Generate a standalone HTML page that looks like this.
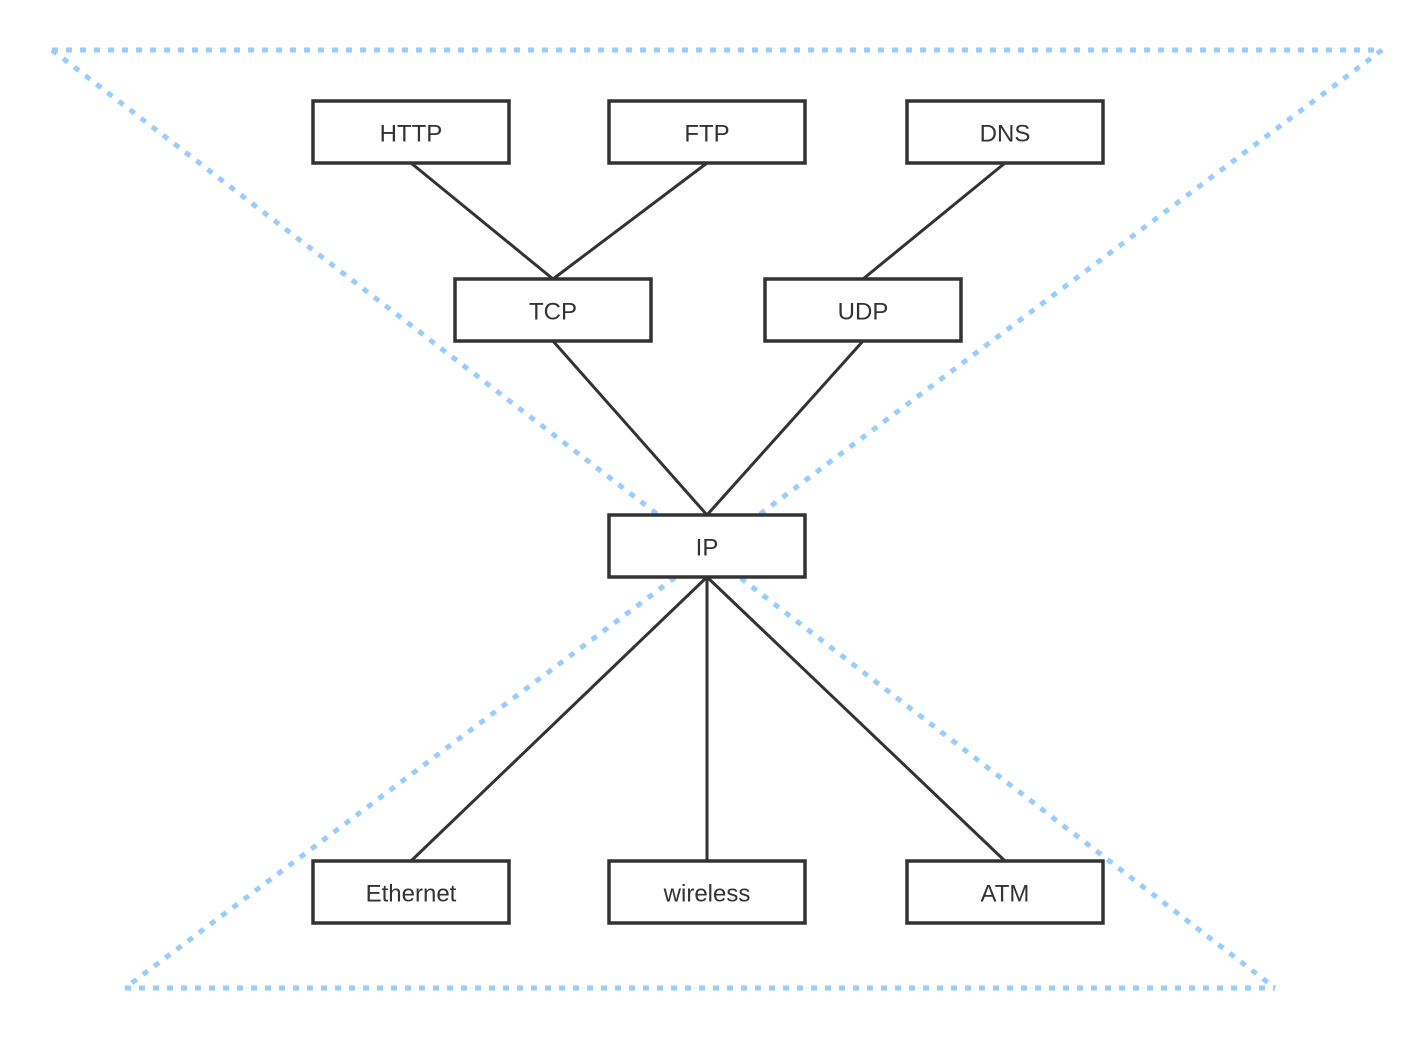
<!DOCTYPE html>
<html><head><meta charset="utf-8"><style>
html,body{margin:0;padding:0;background:#fff}
svg{display:block}
text{font-family:"Liberation Sans",sans-serif;font-size:24px;fill:#333;text-anchor:middle;dominant-baseline:central}
</style></head><body>
<svg width="1424" height="1037" viewBox="0 0 1424 1037">
<g stroke="#99ccff" stroke-width="5" stroke-dasharray="6 8" fill="none">
<line x1="52" y1="50" x2="1382" y2="50"/>
<line x1="125" y1="988" x2="1275" y2="988"/>
<line x1="52" y1="50" x2="1275" y2="988"/>
<line x1="1382" y1="50" x2="125" y2="988"/>
</g>
<g stroke="#333" stroke-width="3" fill="none">
<line x1="411" y1="163" x2="553" y2="279"/>
<line x1="707" y1="163" x2="553" y2="279"/>
<line x1="1005" y1="163" x2="863" y2="279"/>
<line x1="553" y1="341" x2="707" y2="515"/>
<line x1="863" y1="341" x2="707" y2="515"/>
<line x1="707" y1="577" x2="411" y2="861"/>
<line x1="707" y1="577" x2="707" y2="861"/>
<line x1="707" y1="577" x2="1005" y2="861"/>
</g>
<g stroke="#333" stroke-width="3.5" fill="#fff">
<rect x="313" y="101" width="196" height="62"/>
<rect x="609" y="101" width="196" height="62"/>
<rect x="907" y="101" width="196" height="62"/>
<rect x="455" y="279" width="196" height="62"/>
<rect x="765" y="279" width="196" height="62"/>
<rect x="609" y="515" width="196" height="62"/>
<rect x="313" y="861" width="196" height="62"/>
<rect x="609" y="861" width="196" height="62"/>
<rect x="907" y="861" width="196" height="62"/>
</g>
<text x="411" y="134">HTTP</text>
<text x="707" y="134">FTP</text>
<text x="1005" y="134">DNS</text>
<text x="553" y="312">TCP</text>
<text x="863" y="312">UDP</text>
<text x="707" y="548">IP</text>
<text x="411" y="894">Ethernet</text>
<text x="707" y="894">wireless</text>
<text x="1005" y="894">ATM</text>
</svg>
</body></html>
